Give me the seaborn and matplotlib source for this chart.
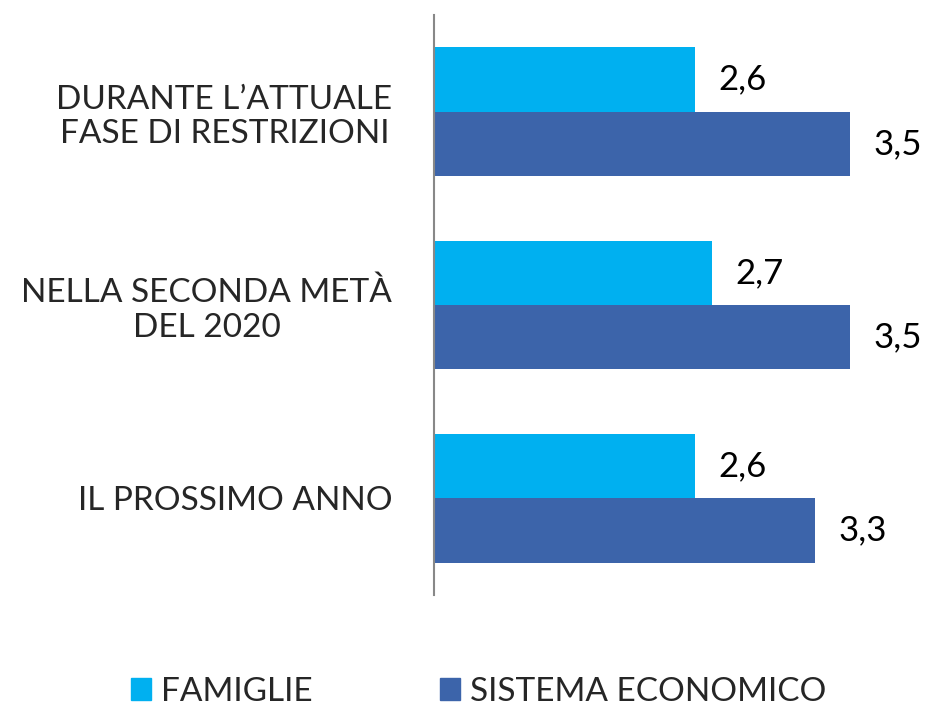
import pandas as pd
import seaborn as sns
import matplotlib.pyplot as plt

categories = ["DURANTE L\u2019ATTUALE\nFASE DI RESTRIZIONI", "NELLA SECONDA METÀ\nDEL 2020", "IL PROSSIMO ANNO"]
series = ["FAMIGLIE", "SISTEMA ECONOMICO"]
famiglie = [2.6, 2.7, 2.6]
sistema = [3.5, 3.5, 3.3]

df = pd.DataFrame({
    "categoria": categories * 2,
    "serie": [series[0]] * 3 + [series[1]] * 3,
    "valore": famiglie + sistema,
})

sns.set_style("white")
plt.rcParams["font.family"] = ["Lato", "DejaVu Sans"]

colors = {"FAMIGLIE": "#00B0F0", "SISTEMA ECONOMICO": "#3C64AA"}

fig = plt.figure(figsize=(9.26, 7.05), dpi=100)
ax = fig.add_axes([0.4687, 0.156, 0.503, 0.8227])

sns.barplot(data=df, y="categoria", x="valore", hue="serie", orient="h",
            palette=colors, width=0.665, ax=ax, legend=False, saturation=1,
            edgecolor="none")

ax.set_xlim(1.09, 3.79)
ax.set_ylim(2.5, -0.5)
ax.set_xlabel("")
ax.set_ylabel("")
ax.set_xticks([])
for s in ["top", "right", "bottom"]:
    ax.spines[s].set_visible(False)
ax.spines["left"].set_color("#888888")
ax.spines["left"].set_linewidth(1.5)

ax.tick_params(axis="y", length=0, pad=30)
for lab in ax.get_yticklabels():
    lab.set_fontsize(24)
    lab.set_multialignment("center")

for cont in ax.containers:
    ax.bar_label(cont, labels=[f"{v:.1f}".replace(".", ",") for v in cont.datavalues],
                 padding=17, fontsize=25, color="black")

handles = [plt.Rectangle((0, 0), 1, 1, color=colors[s]) for s in series]
fig.legend(handles, series, loc="lower center", bbox_to_anchor=(0.517, -0.045), ncol=2,
           frameon=False, fontsize=24, handlelength=0.6, handleheight=0.6,
           handletextpad=0.3, columnspacing=3.8)

plt.savefig("out.png", dpi=100)
